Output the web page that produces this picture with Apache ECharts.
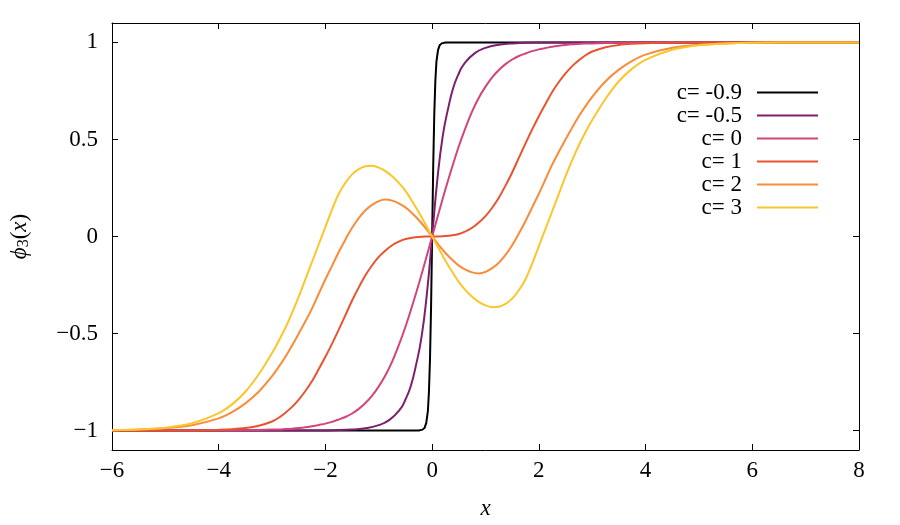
<!DOCTYPE html>
<html>
<head>
<meta charset="utf-8">
<script src="https://cdn.jsdelivr.net/npm/echarts@6/dist/echarts.min.js"></script>
<style>
  html, body { margin: 0; padding: 0; background: #fff; }
  #chart { width: 900px; height: 525px; }
</style>
</head>
<body>
<div id="chart"></div>
<script>
// values, curve by curve
const xBlack = [-6, -1, -0.4, -0.25, -0.18, -0.14, -0.11, -0.08, -0.06, -0.04, -0.02, 0, 0.02, 0.04, 0.06, 0.08, 0.11, 0.14, 0.18, 0.25, 0.4, 1, 8];
const yBlack = [-1, -1, -1, -0.999, -0.995, -0.985, -0.96, -0.9, -0.8, -0.63, -0.36, 0, 0.36, 0.63, 0.8, 0.9, 0.96, 0.985, 0.995, 0.999, 1, 1, 1];

const xPurple = [-6, -3, -2, -1.5, -1.25, -1, -0.8, -0.6, -0.5, -0.4, -0.3, -0.2, -0.1, 0, 0.1, 0.2, 0.3, 0.4, 0.5, 0.6, 0.8, 1, 1.25, 1.5, 2, 3, 8];
const yPurple = [-1, -1, -0.999, -0.995, -0.988, -0.972, -0.945, -0.89, -0.84, -0.77, -0.66, -0.52, -0.3, 0, 0.3, 0.52, 0.66, 0.77, 0.84, 0.89, 0.945, 0.972, 0.988, 0.995, 0.999, 1, 1];

// shared x positions for the four wider curves (finer in the middle)
const xGrid = [-6, -5.5, -5, -4.5, -4, -3.75, -3.5, -3.25,
    -3, -2.875, -2.75, -2.625, -2.5, -2.375, -2.25, -2.125, -2, -1.875, -1.75, -1.625, -1.5, -1.375, -1.25, -1.125,
    -1, -0.875, -0.75, -0.625, -0.5, -0.375, -0.25, -0.125, 0,
    0.125, 0.25, 0.375, 0.5, 0.625, 0.75, 0.875, 1, 1.125, 1.25, 1.375, 1.5, 1.625, 1.75, 1.875, 2,
    2.125, 2.25, 2.375, 2.5, 2.625, 2.75, 2.875, 3,
    3.25, 3.5, 3.75, 4, 4.5, 5, 5.5, 6, 7, 8];

const yPink = [-1, -1, -1, -1, -0.999, -0.999, -0.998, -0.997,
    -0.995, -0.994, -0.992, -0.99, -0.987, -0.983, -0.978, -0.971, -0.964, -0.955, -0.943, -0.93, -0.912, -0.888, -0.858, -0.82,
    -0.772, -0.715, -0.645, -0.56, -0.465, -0.358, -0.245, -0.124, 0,
    0.124, 0.245, 0.358, 0.465, 0.56, 0.645, 0.715, 0.772, 0.82, 0.858, 0.888, 0.912, 0.93, 0.943, 0.955, 0.964,
    0.971, 0.978, 0.983, 0.987, 0.99, 0.992, 0.994, 0.995,
    0.997, 0.998, 0.999, 0.999, 1, 1, 1, 1, 1, 1];

const yRed = [-1, -1, -1, -0.999, -0.996, -0.993, -0.987, -0.975,
    -0.953, -0.934, -0.908, -0.878, -0.84, -0.796, -0.745, -0.683, -0.62, -0.552, -0.48, -0.405, -0.33, -0.262, -0.2, -0.148,
    -0.105, -0.072, -0.045, -0.026, -0.013, -0.006, -0.002, -0.0003, 0,
    0.0003, 0.002, 0.006, 0.013, 0.026, 0.045, 0.072, 0.105, 0.148, 0.2, 0.262, 0.33, 0.405, 0.48, 0.552, 0.62,
    0.683, 0.745, 0.796, 0.84, 0.878, 0.908, 0.934, 0.953,
    0.975, 0.987, 0.993, 0.996, 0.999, 1, 1, 1, 1, 1];

const yOrange = [-0.998, -0.995, -0.988, -0.972, -0.937, -0.905, -0.86, -0.8,
    -0.72, -0.672, -0.62, -0.562, -0.5, -0.437, -0.37, -0.295, -0.22, -0.15, -0.08, -0.015, 0.045, 0.095, 0.135, 0.163,
    0.182, 0.19, 0.185, 0.171, 0.15, 0.12, 0.085, 0.044, 0,
    -0.044, -0.085, -0.12, -0.15, -0.171, -0.185, -0.19, -0.182, -0.163, -0.135, -0.095, -0.045, 0.015, 0.08, 0.15, 0.22,
    0.295, 0.37, 0.437, 0.5, 0.562, 0.62, 0.672, 0.72,
    0.8, 0.86, 0.905, 0.937, 0.972, 0.988, 0.995, 0.998, 1, 1];

const yYellow = [-0.998, -0.994, -0.985, -0.962, -0.91, -0.865, -0.8, -0.71,
    -0.6, -0.538, -0.47, -0.393, -0.31, -0.22, -0.13, -0.04, 0.05, 0.14, 0.22, 0.277, 0.32, 0.347, 0.362, 0.364,
    0.355, 0.337, 0.31, 0.276, 0.235, 0.182, 0.125, 0.063, 0,
    -0.063, -0.125, -0.182, -0.235, -0.276, -0.31, -0.337, -0.355, -0.364, -0.362, -0.347, -0.32, -0.277, -0.22, -0.14, -0.05,
    0.04, 0.13, 0.22, 0.31, 0.393, 0.47, 0.538, 0.6,
    0.71, 0.8, 0.865, 0.91, 0.962, 0.985, 0.994, 0.998, 1, 1];

const names = ['c= -0.9', 'c= -0.5', 'c= 0', 'c= 1', 'c= 2', 'c= 3'];
const colors = ['#000000', '#7c1f6f', '#d2447b', '#e8542f', '#f98c3a', '#fac62b'];
const yTicks = [-1, -0.5, 0, 0.5, 1];

const curves = [[xBlack, yBlack], [xPurple, yPurple], [xGrid, yPink], [xGrid, yRed], [xGrid, yOrange], [xGrid, yYellow]];

const font = '"Liberation Serif", "DejaVu Serif", serif';
const minus = v => String(v).replace('-', '\u2212');

const chart = echarts.init(document.getElementById('chart'));

const axisLine = { show: true, onZero: false, lineStyle: { color: '#000', width: 1 } };
const tick = { show: true, inside: true, length: 6, lineStyle: { color: '#000' } };

chart.setOption({
    animation: false,
    backgroundColor: '#fff',
    grid: { left: 112, right: 41, top: 23, bottom: 73 },
    legend: {
        orient: 'vertical',
        right: 82,
        top: 81,
        padding: 0,
        align: 'right',
        icon: 'rect',
        itemWidth: 61,
        itemHeight: 2,
        itemGap: 0,
        data: names,
        textStyle: { fontFamily: font, fontSize: 23, lineHeight: 19, color: '#000', padding: [0, 10, 0, 0] }
    },
    xAxis: [
        {
            type: 'value', min: -6, max: 8, interval: 2, position: 'bottom',
            name: 'x', nameLocation: 'middle', nameGap: 47,
            nameTextStyle: { fontFamily: font, fontSize: 23, fontStyle: 'italic', color: '#000' },
            axisLine: axisLine, axisTick: tick, splitLine: { show: false },
            axisLabel: { fontFamily: font, fontSize: 23, color: '#000', margin: 9, formatter: minus }
        },
        {
            type: 'value', min: -6, max: 8, interval: 2, position: 'top',
            axisLine: axisLine, axisTick: tick, splitLine: { show: false },
            axisLabel: { show: false }
        }
    ],
    yAxis: [
        {
            type: 'value', min: -1.1, max: 1.1, position: 'left',
            name: '{i|\u03D5}{s|3}{n|(}{i|x}{n|)}', nameLocation: 'middle', nameGap: 80,
            nameTextStyle: {
                rich: {
                    i: { fontFamily: font, fontSize: 23, fontStyle: 'italic', color: '#000' },
                    n: { fontFamily: font, fontSize: 23, color: '#000' },
                    s: { fontFamily: font, fontSize: 16, color: '#000', verticalAlign: 'bottom', padding: [8, 0, 0, 0] }
                }
            },
            axisLine: axisLine, splitLine: { show: false },
            axisLabel: { fontFamily: font, fontSize: 23, color: '#000', margin: 14, formatter: minus, customValues: yTicks },
            axisTick: Object.assign({ customValues: yTicks }, tick)
        },
        {
            type: 'value', min: -1.1, max: 1.1, position: 'right',
            axisLine: axisLine, splitLine: { show: false },
            axisLabel: { show: false, customValues: yTicks },
            axisTick: Object.assign({ customValues: yTicks }, tick)
        }
    ],
    series: curves.map((c, i) => ({
        name: names[i],
        type: 'line',
        symbol: 'none',
        smooth: i === 0 ? false : (i === 1 ? 0.5 : 0.25),
        lineStyle: { width: 2, color: colors[i] },
        itemStyle: { color: colors[i] },
        data: c[0].map((x, k) => [x, c[1][k]])
    }))
});
</script>
</body>
</html>
